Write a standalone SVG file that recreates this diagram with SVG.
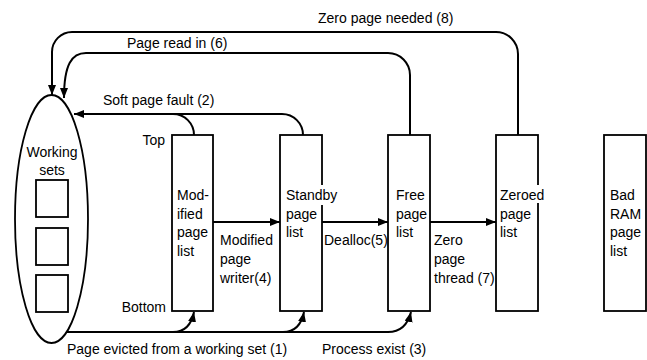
<svg xmlns="http://www.w3.org/2000/svg" width="647" height="360" viewBox="0 0 647 360">
<style>
text{font-family:"Liberation Sans",Arial,sans-serif;font-size:14px;fill:#000}
.box{fill:#fff;stroke:#000;stroke-width:1.8}
.c{fill:none;stroke:#000;stroke-width:2}
.mask{fill:#fff;stroke:none}
</style>
<defs>
<marker id="ah" markerUnits="userSpaceOnUse" markerWidth="11" markerHeight="9" refX="10" refY="4" orient="auto">
<path d="M0,0 L10,4 L0,8 Z" fill="#000"/>
</marker>
</defs>
<rect width="647" height="360" fill="#fff"/>
<g id="working-sets">
<ellipse cx="51.5" cy="219" rx="36.5" ry="124" class="box"/>
<text x="52" y="157" text-anchor="middle">Working</text>
<text x="52" y="175" text-anchor="middle">sets</text>
<rect x="36" y="180" width="32" height="37" class="box"/>
<rect x="36" y="228" width="32" height="37" class="box"/>
<rect x="36" y="275" width="32" height="37" class="box"/>
</g>
<g id="modified">
<rect x="172" y="135" width="41" height="176" class="box"/>
<text x="177" y="200">Mod-</text>
<text x="177" y="219">ified</text>
<text x="177" y="237">page</text>
<text x="177" y="256">list</text>
<text x="165" y="145" text-anchor="end">Top</text>
<text x="166" y="312" text-anchor="end">Bottom</text>
</g>
<g id="standby">
<rect x="280" y="135" width="42" height="176" class="box"/>
<rect x="320" y="185" width="18" height="20" class="mask"/>
<text x="286" y="200">Standby</text>
<text x="286" y="219">page</text>
<text x="286" y="237">list</text>
</g>
<g id="free">
<rect x="388" y="135" width="42" height="176" class="box"/>
<text x="396" y="200">Free</text>
<text x="396" y="219">page</text>
<text x="396" y="237">list</text>
</g>
<g id="zeroed">
<rect x="496" y="135" width="42" height="176" class="box"/>
<rect x="536" y="185" width="10" height="18" class="mask"/>
<text x="500" y="200">Zeroed</text>
<text x="500" y="219">page</text>
<text x="500" y="237">list</text>
</g>
<g id="bad-ram">
<rect x="604" y="135" width="42" height="176" class="box"/>
<text x="610" y="200">Bad</text>
<text x="610" y="219">RAM</text>
<text x="610" y="237">page</text>
<text x="610" y="256">list</text>
</g>
<g id="connectors">
<path class="c" d="M518,135 V54 A22,22 0 0 0 496,32 H72 A20,20 0 0 0 52,52 V95" marker-end="url(#ah)"/>
<path class="c" d="M410,135 V75 A22,22 0 0 0 388,53 H86 C72,53 64,64 64,98" marker-end="url(#ah)"/>
<path class="c" d="M303,135 A21,21 0 0 0 282,114 H74" marker-end="url(#ah)"/>
<path class="c" d="M194,135 A21,21 0 0 0 173,114"/>
<path class="c" d="M213,222 H280" marker-end="url(#ah)"/>
<path class="c" d="M322,222 H388" marker-end="url(#ah)"/>
<path class="c" d="M430,222 H496" marker-end="url(#ah)"/>
<path class="c" d="M67,332 H173 Q190,332 194,312" marker-end="url(#ah)"/>
<path class="c" d="M173,332 H283 Q300,332 304,312" marker-end="url(#ah)"/>
<path class="c" d="M283,332 H388 Q406,332 411,312" marker-end="url(#ah)"/>
<text x="318" y="23">Zero page needed (8)</text>
<text x="127" y="48">Page read in (6)</text>
<text x="103" y="105">Soft page fault (2)</text>
<text x="220" y="245">Modified</text>
<text x="220" y="264">page</text>
<text x="220" y="283">writer(4)</text>
<text x="324" y="245">Dealloc(5)</text>
<text x="434" y="245">Zero</text>
<text x="434" y="264">page</text>
<text x="434" y="283">thread (7)</text>
<text x="67" y="354">Page evicted from a working set (1)</text>
<text x="322" y="354">Process exist (3)</text>
</g>
</svg>
